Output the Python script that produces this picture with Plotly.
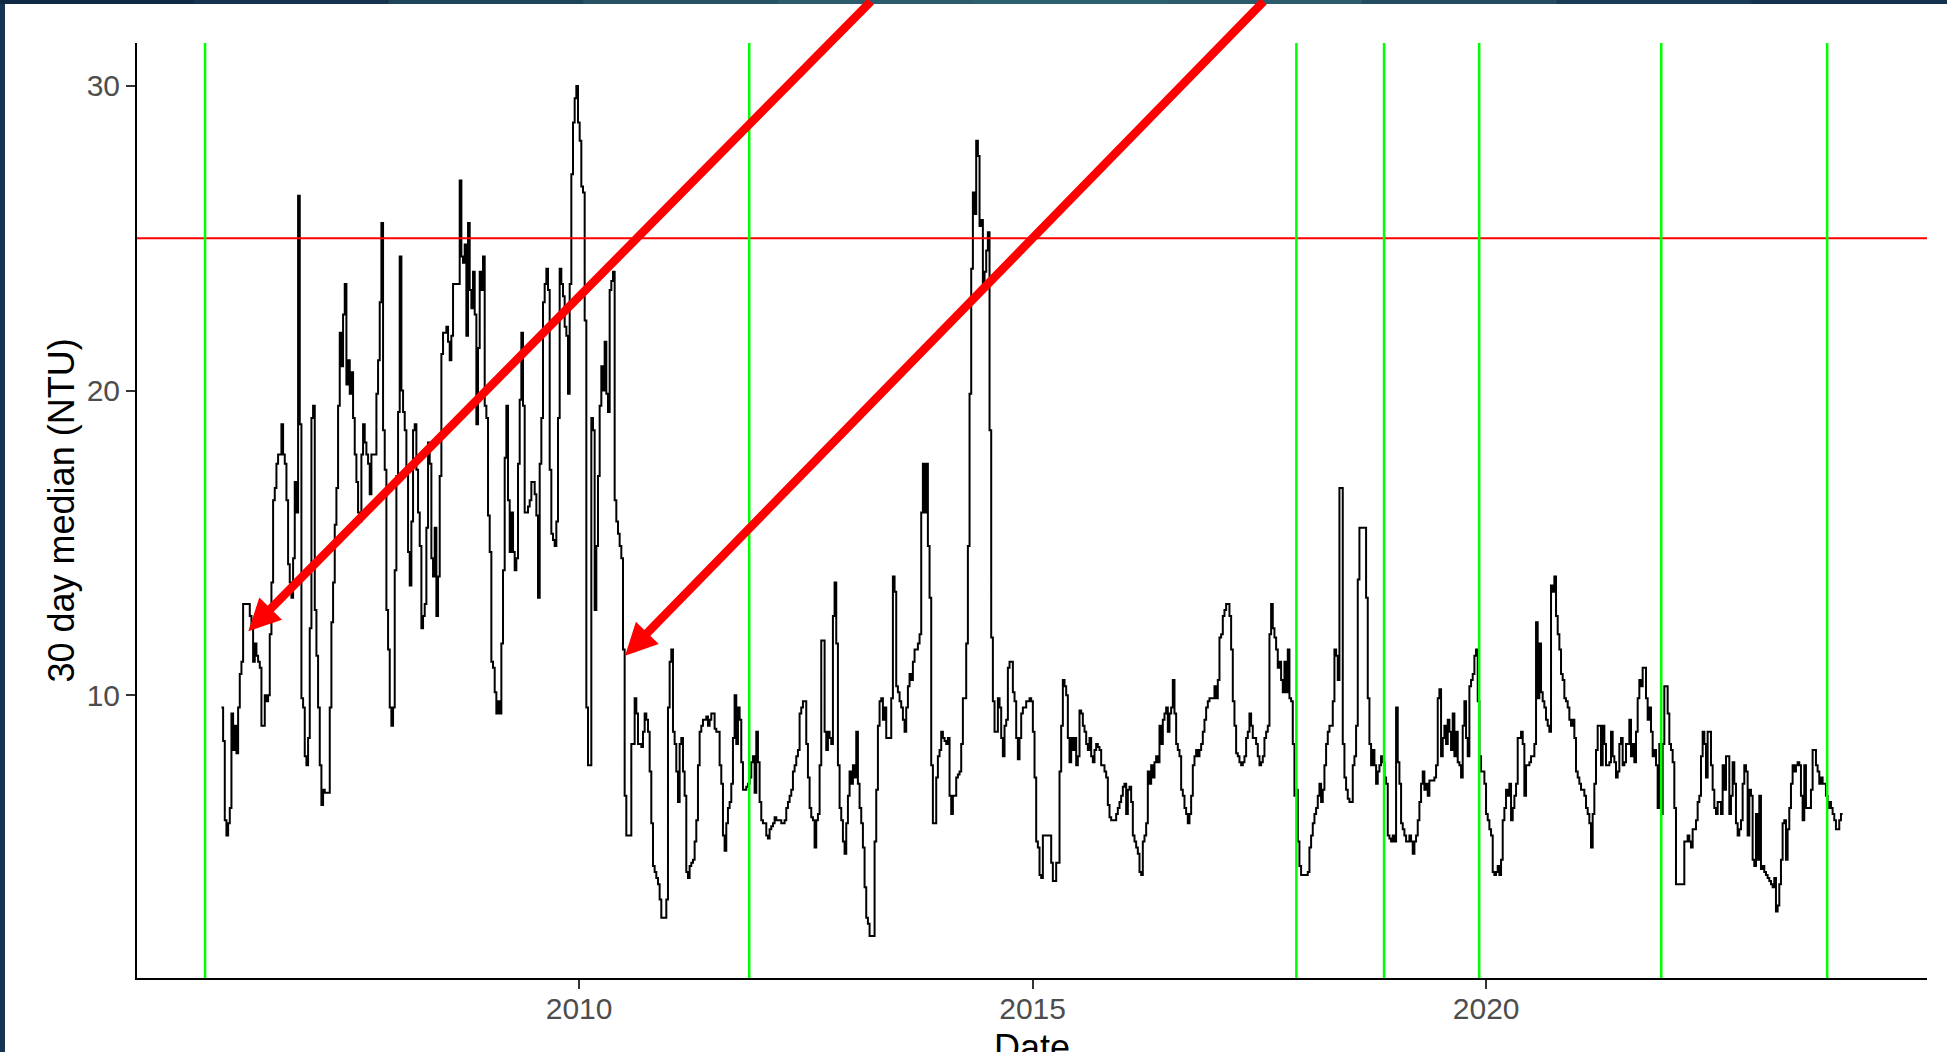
import pandas as pd
import plotly.graph_objects as go

# 30-day running median turbidity (NTU), one value every 161 hours from 22 Jan 2006
ntu_2006_2010 = [
    9.6, 8.5, 5.9, 5.4, 5.8, 6.3, 9.4, 8.2, 9.0, 8.1,
    9.6, 10.7, 11.1, 13.0, 13.0, 13.0, 13.0, 12.6, 12.2, 11.1,
    11.7, 11.3, 11.1, 10.9, 9.0, 9.0, 10.0, 9.8, 10.0, 12.0,
    13.7, 16.4, 16.8, 17.6, 17.9, 17.9, 18.9, 17.9, 17.6, 16.4,
    14.3, 13.7, 13.2, 14.5, 17.0, 16.0, 26.4, 18.9, 9.9, 9.6,
    8.0, 7.7, 8.6, 12.2, 19.1, 19.5, 12.8, 11.3, 9.6, 7.7,
    6.4, 6.9, 6.8, 6.8, 6.8, 9.6, 12.4, 13.7, 15.6, 16.8,
    19.5, 21.9, 20.8, 22.5, 23.5, 20.2, 21.0, 19.9, 20.6, 19.1,
    17.9, 17.0, 16.0, 15.7, 17.9, 18.9, 18.3, 17.9, 17.6, 16.6,
    17.9, 17.9, 17.9, 19.9, 21.0, 22.9, 25.5, 18.7, 17.4, 12.8,
    11.5, 9.6, 9.0, 9.6, 14.1, 17.2, 19.3, 24.4, 20.0, 19.3,
    18.7, 17.2, 14.7, 13.6, 15.7, 18.7, 18.9, 17.4, 16.0, 14.9,
    12.2, 12.6, 13.0, 15.5, 18.3, 17.6, 14.5, 13.9, 15.5, 12.6,
    13.9, 17.2, 21.2, 21.9, 21.9, 22.1, 21.6, 21.0, 21.8, 23.5,
    23.5, 23.5, 23.5, 26.9, 24.4, 24.2, 24.8, 21.8, 25.5, 23.3,
    22.7, 23.9, 22.5, 18.9, 21.4, 23.9, 23.3, 24.4, 19.5, 19.1,
    15.9, 14.7, 11.1, 10.9, 10.1, 9.4, 9.8, 9.4, 11.7, 14.1,
    17.8, 19.5, 16.4, 14.7, 16.0, 14.7, 14.1, 14.5, 17.6, 19.7,
    21.9, 19.5, 16.0, 16.0, 16.2, 16.4, 17.0, 17.0, 16.6, 15.9,
    13.2, 17.6, 19.1, 22.9, 23.5, 24.0, 23.3, 17.4, 15.3, 15.1,
    14.9, 15.7, 19.1, 24.0, 23.5, 23.1, 22.1, 21.8, 19.9, 23.5,
    27.1, 28.8, 29.6, 30.0, 28.8, 28.2, 26.7, 26.5, 22.3, 9.6,
    7.7, 7.7, 19.1, 18.7, 12.8, 14.9, 17.2, 19.5, 20.8, 20.0,
    21.6, 19.9, 19.3, 23.3, 23.6, 23.9, 16.4, 15.7, 15.3,
]
ntu_2010_2014 = [
    14.9, 14.5, 11.5, 6.7, 5.4, 5.4, 5.4, 8.4, 8.4, 9.9,
    9.4, 8.4, 8.4, 8.3, 8.8, 9.4, 9.2, 8.8, 7.5, 5.8,
    4.4, 4.2, 4.0, 3.8, 3.3, 2.7, 2.7, 2.7, 3.3, 9.6,
    11.1, 11.5, 8.8, 8.4, 7.5, 6.5, 8.4, 8.6, 7.5, 6.7,
    4.2, 4.0, 4.4, 4.5, 4.6, 5.2, 5.9, 7.7, 8.8, 9.0,
    9.2, 9.2, 9.3, 9.0, 9.2, 9.4, 9.4, 8.9, 8.8, 8.8,
    7.7, 7.1, 5.4, 4.9, 5.8, 6.3, 6.5, 7.1, 8.6, 10.0,
    8.4, 9.6, 9.2, 7.8, 6.9, 6.9, 7.0, 7.1, 7.3, 7.8,
    8.0, 6.8, 8.8, 7.8, 6.5, 5.9, 5.8, 5.8, 5.4, 5.3,
    5.6, 5.7, 5.8, 6.0, 5.9, 5.9, 5.9, 5.8, 5.8, 5.9,
    6.3, 6.5, 6.7, 6.9, 7.5, 7.7, 8.0, 8.2, 9.4, 9.6,
    9.8, 9.8, 8.4, 7.3, 6.3, 6.0, 5.9, 5.0, 5.9, 6.1,
    7.7, 11.8, 11.8, 8.8, 8.2, 8.8, 8.6, 8.4, 12.6, 13.7,
    11.7, 7.7, 6.3, 5.9, 5.2, 4.8, 5.8, 6.7, 7.5, 7.1,
    7.7, 7.3, 8.8, 7.1, 6.3, 5.8, 5.0, 3.7, 2.7, 2.5,
    2.1, 2.1, 2.1, 5.2, 6.9, 9.0, 9.8, 9.9, 9.2, 9.6,
    8.6, 8.6, 8.6, 9.9, 13.9, 13.4, 10.3, 10.1, 9.8, 9.6,
    9.2, 8.8, 9.6, 10.3, 10.7, 10.5, 11.1, 11.5, 11.5, 11.7,
    12.0, 16.0, 17.6, 16.0, 17.6, 14.9, 13.2, 7.7, 5.8, 5.8,
    7.3, 8.0, 8.2, 8.8, 8.6, 8.5, 8.4, 8.6, 6.7, 6.1,
    6.7, 6.7, 7.3, 7.4, 7.5, 8.4, 9.9, 9.9, 11.7, 14.9,
    19.9, 24.0, 26.5, 25.8, 28.2, 27.7, 25.4, 25.6, 23.5, 23.9,
    24.6, 25.2, 18.7, 11.9, 9.8, 8.8, 8.8, 9.9, 9.6, 8.6,
    8.0, 9.0, 9.2, 10.9, 11.1, 11.1, 10.1, 9.8, 8.6, 7.9,
]
ntu_2014_2019 = [
    8.6, 9.4, 9.6, 9.6, 9.8, 9.8, 9.9, 9.8, 8.8, 7.3,
    5.2, 5.0, 4.1, 4.0, 5.4, 5.4, 5.4, 5.4, 5.4, 4.5,
    3.9, 3.9, 4.5, 4.5, 7.5, 9.0, 10.5, 10.3, 10.0, 8.6,
    7.8, 8.6, 8.2, 8.6, 7.7, 8.0, 9.5, 9.4, 9.0, 8.8,
    8.4, 8.2, 8.6, 8.0, 7.8, 8.2, 8.4, 8.3, 8.2, 7.7,
    7.7, 7.5, 7.3, 6.4, 6.0, 5.9, 5.9, 5.9, 6.1, 6.3,
    6.5, 6.7, 7.0, 7.1, 6.1, 6.9, 7.0, 6.5, 5.4, 5.2,
    5.0, 4.8, 4.2, 4.1, 5.2, 5.4, 5.8, 7.5, 7.1, 7.7,
    7.3, 7.8, 8.0, 7.8, 9.0, 8.4, 9.2, 9.4, 9.6, 8.8,
    9.4, 9.6, 10.5, 9.4, 8.4, 8.2, 8.0, 6.9, 6.7, 6.3,
    6.1, 5.8, 6.1, 6.7, 7.7, 8.0, 8.2, 8.0, 8.2, 8.4,
    8.8, 9.2, 9.6, 9.8, 9.9, 9.9, 9.9, 10.3, 9.9, 10.5,
    11.9, 12.0, 12.6, 12.8, 13.0, 13.0, 12.6, 11.5, 9.8, 9.0,
    8.1, 8.0, 7.8, 7.7, 7.8, 8.0, 8.6, 8.8, 9.4, 9.0,
    8.6, 8.6, 8.4, 8.0, 7.7, 7.8, 8.0, 8.6, 8.8, 9.0,
    12.0, 13.0, 12.2, 11.9, 11.5, 10.9, 11.1, 10.5, 10.1, 11.1,
    10.1, 11.5, 9.9, 9.8, 8.4, 6.7, 6.9, 5.2, 4.4, 4.1,
    4.1, 4.1, 4.1, 4.2, 5.0, 5.4, 5.8, 6.1, 6.3, 6.7,
    7.1, 6.5, 6.9, 7.7, 8.4, 8.8, 9.0, 9.0, 9.8, 11.5,
    11.3, 10.5, 16.8, 16.8, 8.4, 7.3, 6.9, 6.6, 6.5, 6.5,
    7.7, 8.0, 9.0, 13.8, 15.5, 15.5, 15.5, 15.5, 13.2, 9.9,
    8.4, 7.7, 8.2, 7.7, 7.1, 7.5, 7.7, 8.0, 7.8, 7.3,
    7.1, 5.4, 5.3, 5.2, 5.4, 5.2, 9.6, 7.8, 7.1, 5.8,
    5.6, 5.4, 5.2, 5.2, 5.4, 5.2, 4.8, 5.2, 5.4, 5.9,
    6.5, 7.1, 7.5, 6.9, 7.1, 6.7,
]
ntu_2019_2023 = [
    7.2, 7.2, 7.2, 7.3, 7.7, 9.9, 10.2, 8.0, 8.6, 9.0,
    8.4, 9.2, 8.8, 8.2, 9.4, 8.0, 8.8, 7.8, 7.7, 7.3,
    9.0, 9.8, 8.6, 8.0, 10.3, 10.5, 10.7, 11.3, 11.5, 9.8,
    8.0, 7.5, 7.5, 7.1, 6.1, 5.9, 5.6, 5.4, 4.2, 4.1,
    4.2, 4.4, 4.1, 4.6, 5.9, 6.3, 6.9, 6.7, 7.1, 5.9,
    6.3, 6.7, 7.1, 8.6, 8.6, 8.8, 8.4, 6.7, 7.7, 7.7,
    7.8, 8.0, 8.0, 8.4, 12.4, 9.9, 11.7, 10.1, 9.8, 9.6,
    9.2, 9.0, 8.8, 13.6, 13.4, 13.9, 12.6, 12.0, 11.5, 10.7,
    10.5, 9.9, 9.8, 9.6, 9.2, 9.0, 9.2, 8.6, 7.5, 7.3,
    7.1, 6.9, 6.9, 6.7, 6.3, 6.1, 5.8, 5.0, 6.1, 7.1,
    8.2, 9.0, 9.0, 7.7, 9.0, 8.4, 7.7, 7.7, 7.8, 8.8,
    8.0, 7.8, 7.3, 7.5, 8.4, 8.6, 7.7, 7.8, 8.4, 8.4,
    9.2, 8.0, 8.4, 7.8, 8.8, 9.9, 10.5, 10.3, 10.9, 10.9,
    9.9, 9.2, 9.6, 8.8, 8.0, 8.2, 7.7, 6.3, 8.4, 6.1,
    8.4, 10.3, 10.3, 9.4, 8.4, 8.2, 7.8, 6.3, 3.8, 3.8,
    3.8, 3.8, 3.8, 5.2, 5.2, 5.4, 5.2, 5.0, 5.6, 5.6,
    5.9, 6.5, 6.7, 8.0, 8.8, 8.4, 7.3, 8.8, 8.8, 7.7,
    6.9, 6.3, 6.1, 6.5, 6.5, 6.1, 7.7, 6.9, 8.0, 8.0,
    6.1, 6.7, 7.8, 7.1, 5.8, 5.4, 5.6, 5.9, 7.1, 7.7,
    7.5, 5.4, 6.9, 6.7, 4.6, 4.4, 6.1, 4.6, 6.7, 4.3,
    4.4, 4.2, 4.1, 4.0, 3.9, 3.8, 3.7, 4.0, 2.9, 3.1,
    3.8, 4.6, 5.8, 5.9, 4.6, 5.6, 6.3, 7.1, 7.7, 7.5,
    7.7, 7.8, 7.7, 6.7, 5.9, 7.7, 6.3, 6.3, 6.3, 6.9,
    8.2, 8.2, 7.7, 7.5, 7.1, 7.3, 7.1, 7.1, 6.7, 6.3,
    6.5, 6.3, 6.1, 5.9, 5.6, 5.6, 5.9, 6.1, 6.1,
]
series_start = "2006-01-22"
sample_step = "161h"

# Dates marked with vertical reference lines
event_dates = ["2005-11-17", "2011-11-17", "2017-11-28", "2018-11-16",
               "2019-12-04", "2021-12-06", "2023-10-05"]
threshold_ntu = 25

x_tick_dates = ["2010-01-01", "2015-01-01", "2020-01-01"]
x_tick_labels = ["2010", "2015", "2020"]
y_tick_values = [10, 20, 30]

# Points highlighted by the call-out arrows
arrow_dates = ["2006-05-10", "2010-07-05"]
arrow_values = [12.1, 11.3]

ntu = ntu_2006_2010 + ntu_2010_2014 + ntu_2014_2019 + ntu_2019_2023
dates = pd.date_range(series_start, periods=len(ntu), freq=sample_step)

FONT = "Liberation Sans, Arial, sans-serif"

fig = go.Figure()
fig.add_trace(go.Scatter(
    x=dates, y=ntu, mode="lines",
    line=dict(color="black", width=2, shape="hv"),
    hoverinfo="skip",
))

# horizontal threshold and vertical event lines
fig.add_shape(type="line", xref="paper", yref="y", x0=0, x1=1,
              y0=threshold_ntu, y1=threshold_ntu,
              line=dict(color="#ff0000", width=2), layer="above")
for d in event_dates:
    fig.add_shape(type="line", xref="x", yref="paper", x0=d, x1=d, y0=0, y1=1,
                  line=dict(color="#00ff00", width=2.5), layer="above")

# call-out arrows
arrow_offsets = [(624, -634), (640, -656)]
for d, v, (ax, ay) in zip(arrow_dates, arrow_values, arrow_offsets):
    fig.add_annotation(x=d, y=v, xref="x", yref="y", text="",
                       showarrow=True, ax=ax, ay=ay, axref="pixel", ayref="pixel",
                       arrowhead=2, arrowsize=0.75, arrowwidth=8.5,
                       arrowcolor="#ff0000", standoff=0)

# axis titles
fig.add_annotation(text="30 day median (NTU)", xref="paper", yref="paper",
                   x=-0.0419, y=0.5, xanchor="center", yanchor="middle",
                   textangle=-90, showarrow=False,
                   font=dict(family=FONT, size=36, color="black"))
fig.add_annotation(text="Date", xref="paper", yref="paper",
                   x=0.5, y=-0.05, xanchor="center", yanchor="top",
                   showarrow=False,
                   font=dict(family=FONT, size=36, color="black"))

# dark window frame along the top and left edges
L, PW, T, PH = 137, 1790, 43, 935
def px_x(p):
    return (p - L) / PW
def px_y(p):
    return (T + PH - p) / PH

frame_colors = ["#0f2a45", "#15334f", "#1d4459", "#265263", "#2c5c6b",
                "#2e6170", "#2c5c6b", "#244b60", "#1a3b55", "#14324d"]
n = len(frame_colors)
for i, c in enumerate(frame_colors):
    fig.add_shape(type="rect", xref="paper", yref="paper",
                  x0=px_x(1947 * i / n - 1), x1=px_x(1947 * (i + 1) / n + 1),
                  y0=px_y(4), y1=px_y(-20),
                  line=dict(width=0), fillcolor=c, layer="above")
fig.add_shape(type="rect", xref="paper", yref="paper",
              x0=px_x(-20), x1=px_x(5), y0=px_y(1070), y1=px_y(4),
              line=dict(width=0), fillcolor="#163552", layer="above")

fig.update_xaxes(
    type="date", range=["2005-02-16", "2024-11-10"],
    tickvals=x_tick_dates, ticktext=x_tick_labels,
    showgrid=False, zeroline=False,
    showline=True, linecolor="black", linewidth=2,
    ticks="outside", ticklen=9, tickwidth=2, tickcolor="#333333",
    ticklabelstandoff=-6,
    tickfont=dict(family=FONT, size=30, color="#4d4d4d"),
)
fig.update_yaxes(
    range=[0.72, 31.41], tickvals=y_tick_values,
    showgrid=False, zeroline=False,
    showline=True, linecolor="black", linewidth=2,
    ticks="outside", ticklen=9, tickwidth=2, tickcolor="#333333",
    tickfont=dict(family=FONT, size=30, color="#4d4d4d"),
)
fig.update_layout(
    width=1947, height=1052,
    margin=dict(l=L, r=1947 - L - PW, t=T, b=1052 - T - PH),
    paper_bgcolor="white", plot_bgcolor="white",
    showlegend=False, hovermode=False,
)

fig.write_html("out.html", config={"displayModeBar": False})
